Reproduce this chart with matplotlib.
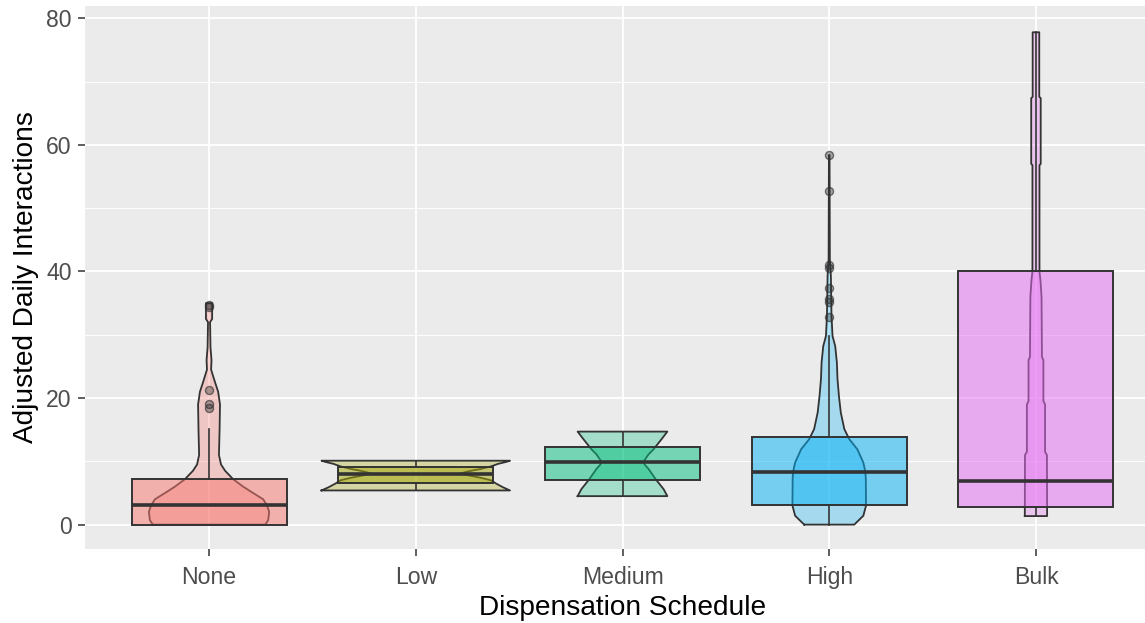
import numpy as np
import matplotlib
matplotlib.use("Agg")
import matplotlib.pyplot as plt
from matplotlib.ticker import MultipleLocator

plt.rcParams['font.family'] = ['Liberation Sans', 'DejaVu Sans']

schedules = ["None", "Low", "Medium", "High", "Bulk"]
colors = ["#F8766D", "#A3A500", "#00BF7D", "#00B0F6", "#E76BF3"]

# box summaries (ggplot style: hinges, median, whisker ends, outliers)
q1 = [0.0, 6.6, 7.1, 3.15, 2.86]
med = [3.1, 8.0, 9.85, 8.3, 6.86]
q3 = [7.2, 9.05, 12.3, 13.8, 40.0]
whis_lo = [0.0, 5.4, 4.5, 0.0, 1.35]
whis_hi = [15.1, 10.1, 14.7, 29.8, 77.8]
outliers = [
    [18.5, 19.0, 21.2, 34.4, 34.7],
    [],
    [],
    [32.8, 35.1, 35.6, 37.4, 40.6, 41.0, 52.7, 58.4],
    [],
]

# violin outlines: value levels and half widths (in category units)
none_y = [0, 0.7, 2, 3, 4, 5, 6, 7.2, 8.5, 9.5, 11, 15, 19, 21, 22.5, 24.5, 26, 28, 32, 32.5, 35]
none_w = [0.272, 0.286, 0.291, 0.281, 0.262, 0.213, 0.165, 0.116, 0.078, 0.058, 0.048,
          0.051, 0.053, 0.044, 0.029, 0.010, 0.012, 0.007, 0.005, 0.015, 0.015]
low_y = [5.4, 5.9, 6.5, 7.0, 7.4, 7.8, 8.1, 8.4, 8.8, 9.2, 9.6, 9.9, 10.1]
low_w = [0.456, 0.422, 0.388, 0.364, 0.315, 0.252, 0.218, 0.252, 0.315, 0.364, 0.398, 0.436, 0.456]
med_y = [4.5, 5.6, 7.2, 8.8, 9.5, 9.85, 10.2, 11.1, 11.9, 13.5, 14.7]
med_w = [0.217, 0.199, 0.160, 0.126, 0.107, 0.102, 0.107, 0.126, 0.150, 0.189, 0.217]
high_y = [0, 1.4, 3, 7.2, 8.3, 9.8, 11.9, 13.5, 15.1, 17.7, 20.3, 23, 25.6, 28.2, 29.8,
          33, 39.3, 42, 58.4]
high_w = [0.121, 0.165, 0.178, 0.177, 0.175, 0.165, 0.136, 0.097, 0.073, 0.056, 0.047,
          0.040, 0.037, 0.029, 0.016, 0.011, 0.008, 0.003, 0.0015]
bulk_y = [1.35, 11, 11.5, 19, 19.5, 26, 26.5, 36, 38.5, 40, 56.8, 57, 67.4, 67.6, 77.8]
bulk_w = [0.054, 0.053, 0.044, 0.044, 0.036, 0.036, 0.029, 0.027, 0.022, 0.017, 0.017,
          0.023, 0.023, 0.016, 0.016]

violin_y = [none_y, low_y, med_y, high_y, bulk_y]
violin_w = [none_w, low_w, med_w, high_w, bulk_w]

W, H = 1145, 623
fig = plt.figure(figsize=(W / 100, H / 100), dpi=100)
left, right, top, bottom = 85, 1160, 5.7, 549.3
ax = fig.add_axes([left / W, (H - bottom) / H, (right - left) / W, (bottom - top) / H])
ax.set_facecolor("#EBEBEB")
for s in ax.spines.values():
    s.set_visible(False)

pos = np.arange(1, 6)
edge = "#333333"

# violins
for i in range(5):
    y = np.array(violin_y[i])
    w = np.array(violin_w[i])
    ax.fill_betweenx(y, pos[i] - w, pos[i] + w, facecolor=colors[i], alpha=0.3,
                     edgecolor="none", zorder=2)
    xs = np.concatenate([pos[i] - w, (pos[i] + w)[::-1], [pos[i] - w[0]]])
    ys = np.concatenate([y, y[::-1], [y[0]]])
    ax.plot(xs, ys, color=edge, lw=1.3, zorder=3)

# boxes
stats = []
for i in range(5):
    stats.append(dict(med=med[i], q1=q1[i], q3=q3[i], whislo=whis_lo[i],
                      whishi=whis_hi[i], fliers=outliers[i]))
bp = ax.bxp(stats, positions=pos, widths=0.75, patch_artist=True, showcaps=False,
            boxprops=dict(edgecolor=edge, linewidth=1.4),
            medianprops=dict(color=edge, linewidth=2.6),
            whiskerprops=dict(color=edge, linewidth=1.2),
            flierprops=dict(marker="o", markersize=5.8,
                            markerfacecolor=(0.2, 0.2, 0.2, 0.4),
                            markeredgecolor=(0.2, 0.2, 0.2, 0.65),
                            markeredgewidth=1.0, linestyle="none"),
            zorder=4)
for patch, c in zip(bp["boxes"], colors):
    r, g, b = matplotlib.colors.to_rgb(c)
    patch.set_facecolor((r, g, b, 0.5))

ax.set_xlim(0.4, 5.6)
ax.set_ylim(-3.9, 82.0)
ax.set_xticks(pos)
ax.set_xticklabels(schedules)
ax.yaxis.set_major_locator(MultipleLocator(20))
ax.yaxis.set_minor_locator(MultipleLocator(10))
ax.grid(which="major", color="white", linewidth=1.3, zorder=0)
ax.grid(which="minor", axis="y", color="white", linewidth=0.65, zorder=0)
ax.set_axisbelow(True)
ax.tick_params(axis="both", which="major", length=5.2, width=1.1, color="#333333",
               labelsize=16.6, labelcolor="#4D4D4D", pad=4.5)
ax.tick_params(axis="x", which="major", pad=6.5)
ax.tick_params(axis="y", which="minor", length=0)

ax.set_xlabel("Dispensation Schedule", fontsize=20.2, color="black", labelpad=4.5)
ax.set_ylabel("Adjusted Daily Interactions", fontsize=20.2, color="black", labelpad=5)

fig.savefig("out.png", dpi=100)
